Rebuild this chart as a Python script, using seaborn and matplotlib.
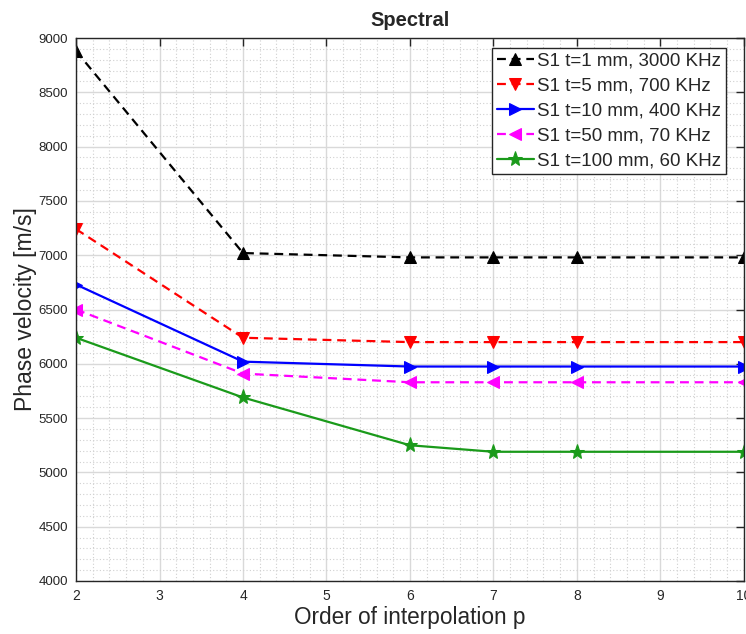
import numpy as np
import pandas as pd
import seaborn as sns
import matplotlib
matplotlib.use("Agg")
import matplotlib.pyplot as plt
from matplotlib.ticker import MultipleLocator

order_p = [2, 4, 6, 7, 8, 10]
s1_t1 = [8880, 7020, 6980, 6980, 6980, 6980]
s1_t5 = [7240, 6240, 6200, 6200, 6200, 6200]
s1_t10 = [6730, 6020, 5975, 5975, 5975, 5975]
s1_t50 = [6500, 5910, 5830, 5830, 5830, 5830]
s1_t100 = [6240, 5690, 5250, 5190, 5190, 5190]

labels = ["S1 t=1 mm, 3000 KHz", "S1 t=5 mm, 700 KHz", "S1 t=10 mm, 400 KHz",
          "S1 t=50 mm, 70 KHz", "S1 t=100 mm, 60 KHz"]
series = [s1_t1, s1_t5, s1_t10, s1_t50, s1_t100]
colors = ["black", "#ff0000", "#0000ff", "#ff00ff", "#1a9a1a"]
markers = ["^", "v", ">", "<", "*"]
styles = ["--", "--", "-", "--", "-"]

sns.set_style("white")
plt.rcParams['font.family'] = ['Liberation Sans', 'DejaVu Sans']

fig = plt.figure(figsize=(7.46, 6.34), dpi=100)
ax = fig.add_axes([0.102, 0.0836, 0.895, 0.8564])

for lab, vals, c, m, ls in zip(labels, series, colors, markers, styles):
    df = pd.DataFrame({"p": order_p, "v": vals})
    sns.lineplot(data=df, x="p", y="v", ax=ax, color=c, marker=m,
                 linestyle=ls, linewidth=1.6, markersize=9 if m != "*" else 11,
                 markeredgecolor=c, label=lab)
    if ls == "--":
        ax.lines[-1].set_dashes((4, 2.6))

ax.set_xlim(2, 10)
ax.set_ylim(4000, 9000)
ax.xaxis.set_major_locator(MultipleLocator(1))
ax.xaxis.set_minor_locator(MultipleLocator(0.2))
ax.yaxis.set_major_locator(MultipleLocator(500))
ax.yaxis.set_minor_locator(MultipleLocator(100))
ax.grid(True, which="major", color="#d9d9d9", linewidth=1.0, linestyle="-")
ax.grid(True, which="minor", color="#d0d0d0", linewidth=0.8, linestyle=(0, (1, 2)))
ax.set_axisbelow(True)
ax.tick_params(which="major", direction="in", length=6, width=1, top=True, right=True,
               labelsize=10, colors="#262626", pad=6)
ax.tick_params(which="minor", length=0)
ax.tick_params(axis="y", labelsize=9.5)
for s in ax.spines.values():
    s.set_color("#262626")
    s.set_linewidth(1.0)

ax.set_xlabel("Order of interpolation p", fontsize=16.3, color="#262626", labelpad=2)
ax.set_ylabel("Phase velocity [m/s]", fontsize=16.5, color="#262626", labelpad=1)
ax.set_title("Spectral", fontsize=14.5, fontweight="bold", color="#262626", pad=9)

leg = ax.legend(loc="upper right", bbox_to_anchor=(0.973, 0.982), fontsize=13.5,
                frameon=True, fancybox=False, edgecolor="#262626", framealpha=1,
                borderpad=0.25, labelspacing=0.42, handlelength=2.0,
                handletextpad=0.15, borderaxespad=0.0)
leg.get_frame().set_linewidth(1.0)

fig.savefig("out.png", dpi=100)
